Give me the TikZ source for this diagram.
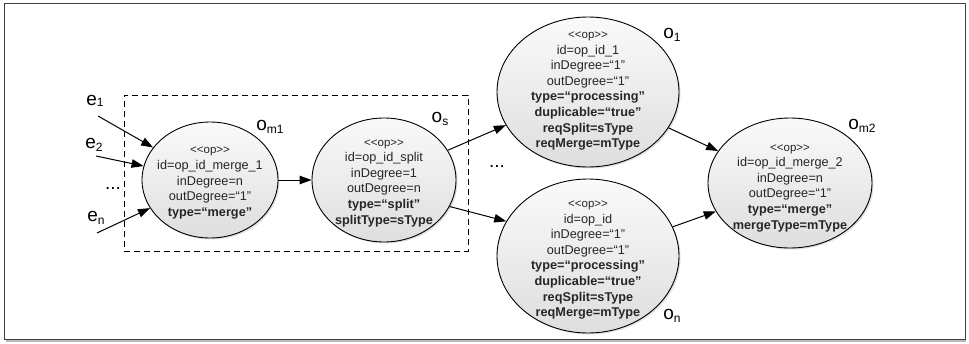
\documentclass[tikz,border=0pt]{standalone}
\usepackage{fontspec}
\setmainfont{Liberation Sans}
\usetikzlibrary{arrows.meta,shadows,shapes.geometric}
\begin{document}
\begin{tikzpicture}[x=1pt,y=-1pt,
  opnode/.style={ellipse, draw=black, line width=0.9pt, top color=gray!4, bottom color=gray!26, inner sep=0pt,
    drop shadow={opacity=0.25, shadow xshift=1.5pt, shadow yshift=-1.5pt}},
  optext/.style={align=center, font=\fontsize{12.7}{15.6}\selectfont, text=black!85, inner sep=0pt},
  conn/.style={line width=1pt, -{Triangle[length=12pt,width=8.5pt]}},
  lbl/.style={font=\fontsize{19}{19}\selectfont, inner sep=0pt},
  dashbox/.style={draw=black, line width=1pt, dash pattern=on 6pt off 4pt},
]
\newcommand{\stereo}{{\fontsize{11.5}{15.6}\selectfont {<}{<}op{>}{>}}}
\newcommand{\subs}[1]{\raisebox{-0.35ex}{\fontsize{12}{12}\selectfont #1}}
\useasboundingbox (0,0) rectangle (969,343);
% frame
\draw[gray!55, line width=2pt] (6,340.5) -- (966,340.5);
\draw[black!75, line width=1pt] (4,3) rectangle (965,339);
% group box
\node[dashbox, minimum width=344pt, minimum height=156pt, inner sep=0pt] (grp) at (296,173) {};
% ellipses
\node[opnode, minimum width=136pt, minimum height=116pt] (om1) at (210,180) {};
\node[opnode, minimum width=144pt, minimum height=124pt] (os) at (384,180) {};
\node[opnode, minimum width=182pt, minimum height=150pt] (o1) at (588,92) {};
\node[opnode, minimum width=182pt, minimum height=154pt] (on) at (588,256) {};
\node[opnode, minimum width=164pt, minimum height=130pt] (om2) at (790,183) {};
% texts
\node[optext] (om1t) at (210,183) {\stereo\\id=op\_id\_merge\_1\\inDegree=n\\outDegree=“1”\\\textbf{type=“merge”}};
\node[optext] (ost) at (384,183) {\stereo\\id=op\_id\_split\\inDegree=1\\outDegree=n\\\textbf{type=“split”}\\\textbf{splitType=sType}};
\node[optext] (o1t) at (588,91) {\stereo\\id=op\_id\_1\\inDegree=“1”\\outDegree=“1”\\\textbf{type=“processing”}\\\textbf{duplicable=“true”}\\\textbf{reqSplit=sType}\\\textbf{reqMerge=mType}};
\node[optext] (ont) at (588,260) {\stereo\\id=op\_id\\inDegree=“1”\\outDegree=“1”\\\textbf{type=“processing”}\\\textbf{duplicable=“true”}\\\textbf{reqSplit=sType}\\\textbf{reqMerge=mType}};
\node[optext] (om2t) at (790,188) {\stereo\\id=op\_id\_merge\_2\\inDegree=n\\outDegree=“1”\\\textbf{type=“merge”}\\\textbf{mergeType=mType}};
% labels
\node[lbl] (lom1) at (270,127) {o\subs{m1}};
\node[lbl] (los) at (440,119) {o\subs{s}};
\node[lbl] (lo1) at (672,35) {o\subs{1}};
\node[lbl] (lon) at (672,316) {o\subs{n}};
\node[lbl] (lom2) at (862,126) {o\subs{m2}};
\node[lbl] (le1) at (95,101) {e\raisebox{-0.1ex}{\fontsize{12}{12}\selectfont 1}};
\node[lbl] (le2) at (94,145) {e\subs{2}};
\node[lbl] (len) at (96,218) {e\subs{n}};
\node[lbl] (dl) at (113,188) {...};
\node[lbl] (dm) at (497,166) {...};
% connectors
\coordinate (e1s) at (98,116);
\coordinate (e2s) at (96,156);
\coordinate (ens) at (97,233);
\draw[conn] (e1s) -- (om1);
\draw[conn] (e2s) -- (om1);
\draw[conn] (ens) -- (om1);
\draw[conn] (om1.east) -- (os.west);
\draw[conn] (os.25) -- (o1.202);
\draw[conn] (os.338) -- (on.157);
\draw[conn] (o1.336) -- (om2.156);
\draw[conn] (on.19) -- (om2.201);
\end{tikzpicture}
\end{document}
